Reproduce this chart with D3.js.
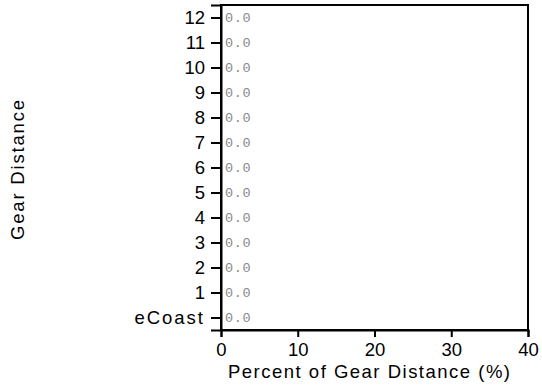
<!DOCTYPE html>
<html>
<head>
<meta charset="utf-8">
<script src="https://cdn.jsdelivr.net/npm/d3@7"></script>
<style>
  body { margin: 0; background: #fff; }
  text { font-family: "Liberation Sans", Arial, sans-serif; }
</style>
</head>
<body>
<svg id="chart" width="542" height="388"></svg>
<script>
// data
var categories = ["eCoast", "1", "2", "3", "4", "5", "6", "7", "8", "9", "10", "11", "12"];
var percents = [0, 0, 0, 0, 0, 0, 0, 0, 0, 0, 0, 0, 0];
var xTicks = [0, 10, 20, 30, 40];

var width = 542, height = 388;
var margin = { left: 221, right: 14, top: 5, bottom: 58 };

var svg = d3.select("#chart");

var x = d3.scaleLinear()
  .domain([0, 40])
  .range([margin.left, width - margin.right]);

var y = d3.scalePoint()
  .domain(categories)
  .range([height - margin.bottom, margin.top])
  .padding(0.5);

var step = y.step();

// bars (all zero here)
svg.append("g")
  .selectAll("rect")
  .data(percents)
  .enter()
  .append("rect")
  .attr("x", x(0))
  .attr("y", function (d, i) { return y(categories[i]) - step * 0.4; })
  .attr("width", function (d) { return x(d) - x(0); })
  .attr("height", step * 0.8)
  .attr("fill", "#4a7ab5");

// value labels
svg.append("g")
  .selectAll("text")
  .data(percents)
  .enter()
  .append("text")
  .attr("x", function (d) { return x(d) + 4; })
  .attr("y", function (d, i) { return y(categories[i]); })
  .attr("dy", "0.36em")
  .style("font-family", "'Liberation Mono', 'DejaVu Sans Mono', monospace")
  .style("font-size", "13.5px")
  .style("letter-spacing", "0.6px")
  .attr("fill", "#888")
  .text(function (d) { return d.toFixed(1); });

// frame
svg.append("rect")
  .attr("x", margin.left)
  .attr("y", margin.top)
  .attr("width", width - margin.right - margin.left)
  .attr("height", height - margin.bottom - margin.top)
  .attr("fill", "none")
  .attr("stroke", "#000")
  .attr("stroke-width", 2);

// axes
var xAxis = svg.append("g")
  .attr("transform", "translate(0," + (height - margin.bottom) + ")")
  .call(d3.axisBottom(x).tickValues(xTicks).tickSize(7).tickPadding(6));

var yAxis = svg.append("g")
  .attr("transform", "translate(" + margin.left + ",0)")
  .call(d3.axisLeft(y).tickSize(10).tickPadding(6));

[xAxis, yAxis].forEach(function (g) {
  g.select(".domain").attr("stroke-width", 2);
  g.selectAll(".tick line").attr("stroke-width", 2);
  g.selectAll(".tick text")
    .style("font-family", "'Liberation Sans', Arial, sans-serif")
    .style("font-size", "18.5px")
    .attr("fill", "#000");
});
yAxis.selectAll(".tick text")
  .filter(function (d) { return isNaN(+d); })
  .style("letter-spacing", "2px");

// axis titles
svg.append("text")
  .attr("x", 369)
  .attr("y", 378)
  .attr("text-anchor", "middle")
  .attr("textLength", 282)
  .attr("lengthAdjust", "spacing")
  .style("font-size", "18.5px")
  .text("Percent of Gear Distance (%)");

svg.append("text")
  .attr("transform", "translate(24,170) rotate(-90)")
  .attr("text-anchor", "middle")
  .attr("textLength", 140)
  .attr("lengthAdjust", "spacing")
  .style("font-size", "18.5px")
  .text("Gear Distance");
</script>
</body>
</html>
